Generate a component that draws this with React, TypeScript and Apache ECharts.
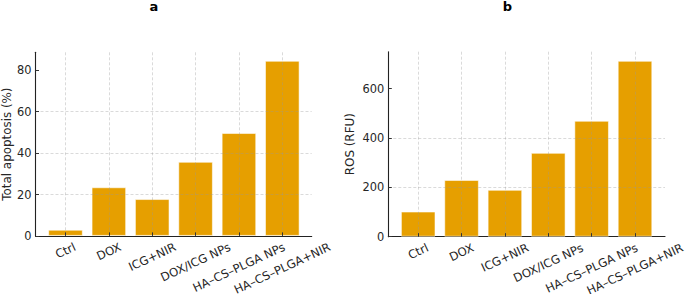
import { useEffect, useRef } from "react";
import * as echarts from "echarts";

const categories = ["Ctrl", "DOX", "ICG+NIR", "DOX/ICG NPs", "HA–CS–PLGA NPs", "HA–CS–PLGA+NIR"];
const apoptosisValues = [3.0, 23.5, 17.8, 35.8, 49.7, 84.6];
const rosValues = [102, 230, 190, 340, 470, 713];
const apoptosisTicks = [0, 20, 40, 60, 80];
const rosTicks = [0, 200, 400, 600];
const panelTitles = ["a", "b"];
const yAxisNames = ["Total apoptosis (%)", "ROS (RFU)"];

const FONT = '"DejaVu Sans", "Liberation Sans", sans-serif';
const TICK_FS = 11.4;
const XLABEL_FS = 11.7;
const NAME_FS = 11.9;
const LABEL_ROT = 25;
const BAR_COLOR = "#E69F00";
const AXIS_COLOR = "#222222";
const TEXT_COLOR = "#262626";
const GRID_LINE = { color: "rgba(150,150,150,0.45)", type: [3, 2] as any, width: 0.8 };

const panels = [
  {
    values: apoptosisValues,
    ticks: apoptosisTicks,
    frame: { left: 35.3, right: 373.3, top: 52.3, bottom: 58.1 },
    bars: { left: 65.5, right: 402.7 },
    max: 88.7,
    interval: 20,
    nameGap: 22.5,
    titleX: 154,
  },
  {
    values: rosValues,
    ticks: rosTicks,
    frame: { left: 388.3, right: 20, top: 51.7, bottom: 57.3 },
    bars: { left: 418.2, right: 50 },
    max: 750,
    interval: 200,
    nameGap: 32.5,
    titleX: 507.5,
  },
];

export default function App() {
  const ref = useRef<HTMLDivElement>(null);

  useEffect(() => {
    if (!ref.current) return;
    const chart = echarts.init(ref.current, undefined, { renderer: "svg" });

    const grid: any[] = [];
    const xAxis: any[] = [];
    const yAxis: any[] = [];
    const series: any[] = [];

    panels.forEach((p, k) => {
      const fi = 2 * k;
      const bi = 2 * k + 1;
      grid.push({ ...p.frame, containLabel: false });
      grid.push({ left: p.bars.left, right: p.bars.right, top: p.frame.top, bottom: p.frame.bottom, containLabel: false });

      xAxis.push({
        type: "value",
        gridIndex: fi,
        min: 0,
        max: 1,
        axisLine: { show: true, onZero: false, lineStyle: { color: AXIS_COLOR, width: 1.1 } },
        axisTick: { show: false },
        axisLabel: { show: false },
        splitLine: { show: false },
      });
      xAxis.push({
        type: "value",
        gridIndex: bi,
        min: 0,
        max: categories.length - 1,
        interval: 1,
        axisLine: { show: false, onZero: false },
        axisTick: { show: true, inside: true, length: 3.5, lineStyle: { color: "#333", width: 1 } },
        axisLabel: { show: false },
        splitLine: { show: true, lineStyle: GRID_LINE },
        z: 3,
      });

      yAxis.push({
        type: "value",
        gridIndex: fi,
        min: 0,
        max: p.max,
        interval: p.interval,
        axisLine: { show: true, lineStyle: { color: AXIS_COLOR, width: 1.1 } },
        axisTick: { show: true, inside: true, length: 3.5, customValues: p.ticks, lineStyle: { color: "#333", width: 1 } },
        axisLabel: {
          margin: 4,
          fontSize: TICK_FS,
          fontFamily: FONT,
          color: TEXT_COLOR,
          customValues: p.ticks,
        },
        splitLine: { show: true, showMaxLine: false, showMinLine: false, lineStyle: GRID_LINE },
        name: yAxisNames[k],
        nameLocation: "middle",
        nameGap: p.nameGap,
        nameTextStyle: { fontSize: NAME_FS, fontFamily: FONT, color: TEXT_COLOR },
        z: 3,
      });
      yAxis.push({
        type: "value",
        gridIndex: bi,
        min: 0,
        max: p.max,
        show: false,
      });

      series.push({
        type: "bar",
        xAxisIndex: bi,
        yAxisIndex: bi,
        data: p.values.map((v, i) => [i, v]),
        barWidth: 34.6,
        clip: false,
        itemStyle: { color: BAR_COLOR, borderColor: "rgba(255,255,255,0.55)", borderWidth: 1 },
        z: 2,
      });
    });

    chart.setOption({
      animation: false,
      grid,
      xAxis,
      yAxis,
      series,
    });

    // rotated, centre-aligned category labels (matplotlib style) placed with the axis scale
    const canvas = document.createElement("canvas");
    const ctx = canvas.getContext("2d")!;
    ctx.font = `${XLABEL_FS}px "DejaVu Sans"`;
    const ang = (LABEL_ROT * Math.PI) / 180;
    const pad = 5;
    const graphics: any[] = [];
    panels.forEach((p, k) => {
      graphics.push({
        type: "text",
        x: p.titleX,
        y: 6,
        style: {
          text: panelTitles[k],
          fontSize: 13,
          fontWeight: "bold",
          fontFamily: FONT,
          fill: "#000",
          align: "center",
          verticalAlign: "middle",
        },
      });
      categories.forEach((c, i) => {
        const pt = chart.convertToPixel({ gridIndex: 2 * k + 1 }, [i, 0]) as number[];
        const w = ctx.measureText(c).width;
        const h = XLABEL_FS;
        const bh = w * Math.sin(ang) + h * Math.cos(ang);
        graphics.push({
          type: "text",
          x: pt[0],
          y: pt[1] + pad + bh / 2,
          rotation: ang,
          style: {
            text: c,
            fontSize: XLABEL_FS,
            fontFamily: FONT,
            fill: TEXT_COLOR,
            align: "center",
            verticalAlign: "middle",
          },
        });
      });
    });
    chart.setOption({ graphic: graphics });

    return () => chart.dispose();
  }, []);

  return <div ref={ref} style={{ position: "absolute", left: 0, top: 0, width: 685, height: 294 }} />;
}
